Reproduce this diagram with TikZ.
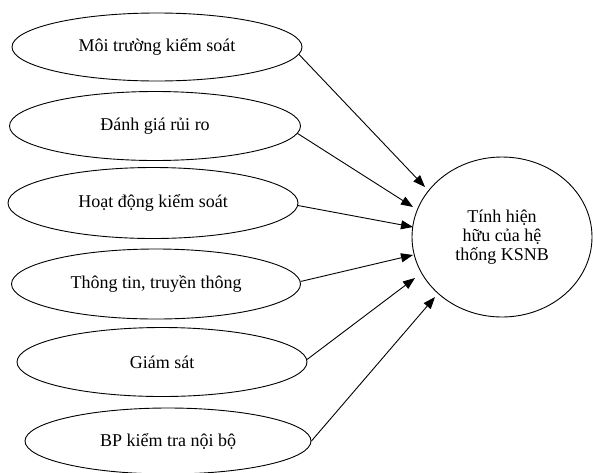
\documentclass[tikz,border=0pt]{standalone}
\usepackage{fontspec}
\setmainfont{Liberation Serif}
\newfontfamily\tnr{Liberation Serif}
\usetikzlibrary{shapes.geometric,arrows.meta}
\begin{document}
\begin{tikzpicture}[x=1pt,y=-1pt,
  factor/.style={ellipse,draw,line width=0.9pt,inner sep=0pt,font=\tnr\fontsize{18}{20}\selectfont},
  target/.style={ellipse,draw,line width=0.9pt,inner sep=0pt,minimum width=180pt,minimum height=160pt,align=center,font=\tnr\fontsize{18}{19}\selectfont},
  link/.style={line width=0.9pt,-{Triangle[length=12pt,width=9pt]}}]
\useasboundingbox (0,0) rectangle (593,472);
\node[factor,minimum width=290pt,minimum height=68pt] (e1) at (157,47) {Môi trường kiểm soát};
\node[factor,minimum width=291pt,minimum height=69pt] (e2) at (155,126) {Đánh giá rủi ro};
\node[factor,minimum width=290pt,minimum height=71pt] (e3) at (153,203) {Hoạt động kiểm soát};
\node[factor,minimum width=289pt,minimum height=70pt] (e4) at (156,284) {Thông tin, truyền thông};
\node[factor,minimum width=290pt,minimum height=69pt] (e5) at (162,362) {Giám sát};
\node[factor,minimum width=286pt,minimum height=66pt] (e6) at (168,441) {BP kiểm tra nội bộ};
\node[target] (c) at (502,237) {Tính hiện\\hữu của hệ\\thống KSNB};
\coordinate (t1) at (425,187);
\coordinate (t2) at (413,207);
\coordinate (t3) at (413,227);
\coordinate (t4) at (413,255);
\coordinate (t5) at (415,278);
\coordinate (t6) at (435,297);
\draw[link] (e1.-3.6) -- (t1);
\draw[link] (e2.-3.6) -- (t2);
\draw[link] (e3.-1.6) -- (t3);
\draw[link] (e4.1.2) -- (t4);
\draw[link] (e5.1.6) -- (t5);
\draw[link] (e6.0.8) -- (t6);
\end{tikzpicture}
\end{document}
